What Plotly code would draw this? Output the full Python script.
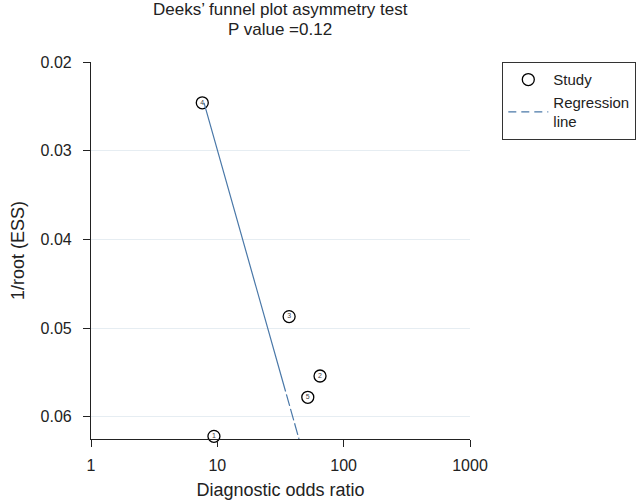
import plotly.graph_objects as go

# Study data (diagnostic odds ratio, 1/root(ESS))
study_ids = ["1", "2", "3", "4", "5"]
dor = [9.4, 65, 37, 7.6, 52]
inv_root_ess = [0.0622, 0.0554, 0.0487, 0.0246, 0.0578]

# Regression line endpoints
reg_x = [7.85, 44.3]
reg_y = [0.0246, 0.0625]

x_tickvals = [1, 10, 100, 1000]
x_ticktext = ["1", "10", "100", "1000"]
y_tickvals = [0.02, 0.03, 0.04, 0.05, 0.06]
y_ticktext = ["0.02", "0.03", "0.04", "0.05", "0.06"]

title_line1 = "Deeks\u2019 funnel plot asymmetry test"
title_line2 = "P value =0.12"

font_family = "Liberation Sans, Arial, Helvetica, sans-serif"
line_color = "#4a78a8"
text_color = "#222"

fig = go.Figure()
fig.add_trace(go.Scatter(
    x=dor, y=inv_root_ess, mode="markers+text", name="Study",
    text=study_ids, textposition="middle center",
    textfont=dict(size=7, color="#444", family=font_family),
    marker=dict(symbol="circle-open", size=12, color="black", line=dict(width=1.3, color="black")),
    cliponaxis=False,
))
fig.add_trace(go.Scatter(
    x=reg_x, y=reg_y, mode="lines", name="Regression<br>line", showlegend=False,
    line=dict(color=line_color, width=1.2, dash="300px,3px,12px,3px,12px,3px,12px,3px"),
    cliponaxis=False,
))
# legend entry for regression line (dashed key)
fig.add_trace(go.Scatter(
    x=[None], y=[None], mode="lines", name="Regression<br>line",
    line=dict(color=line_color, width=1.2, dash="8px,5px"),
))

# plot area: left 91, right 470, top 62, bottom 439
fig.update_layout(
    width=639, height=500,
    margin=dict(l=91, r=169, t=62, b=61, autoexpand=False),
    paper_bgcolor="white", plot_bgcolor="white",
    font=dict(family=font_family, size=16, color=text_color),
    showlegend=True,
    legend=dict(x=(502 - 91) / 379, y=1.0, xanchor="left", yanchor="top",
                bordercolor="#333", borderwidth=1.3,
                font=dict(size=15, color=text_color),
                itemwidth=40, tracegroupgap=0),
    annotations=[
        dict(text=title_line1, xref="paper", yref="paper", x=(280 - 91) / 379, y=(439 - 9) / 377,
             xanchor="center", yanchor="middle", showarrow=False, font=dict(size=17, color=text_color)),
        dict(text=title_line2, xref="paper", yref="paper", x=(280 - 91) / 379, y=(439 - 29) / 377,
             xanchor="center", yanchor="middle", showarrow=False, font=dict(size=17, color=text_color)),
    ],
    xaxis=dict(type="log", range=[0, 3], tickvals=x_tickvals, ticktext=x_ticktext,
               showline=True, linecolor="#222", linewidth=1.2,
               ticks="outside", ticklen=7, tickcolor="#222", ticklabelstandoff=5,
               showgrid=False, zeroline=False, automargin=False,
               title=dict(text="Diagnostic odds ratio", standoff=11, font=dict(size=18))),
    yaxis=dict(range=[0.0625, 0.02], tickvals=y_tickvals, ticktext=y_ticktext,
               showline=True, linecolor="#222", linewidth=1.2,
               ticks="outside", ticklen=7, tickcolor="#222", ticklabelstandoff=8,
               showgrid=True, gridcolor="#e6edf2", gridwidth=1,
               zeroline=False, automargin=False,
               title=dict(text="1/root (ESS)", standoff=11, font=dict(size=18))),
)

fig.write_html("out.html")
